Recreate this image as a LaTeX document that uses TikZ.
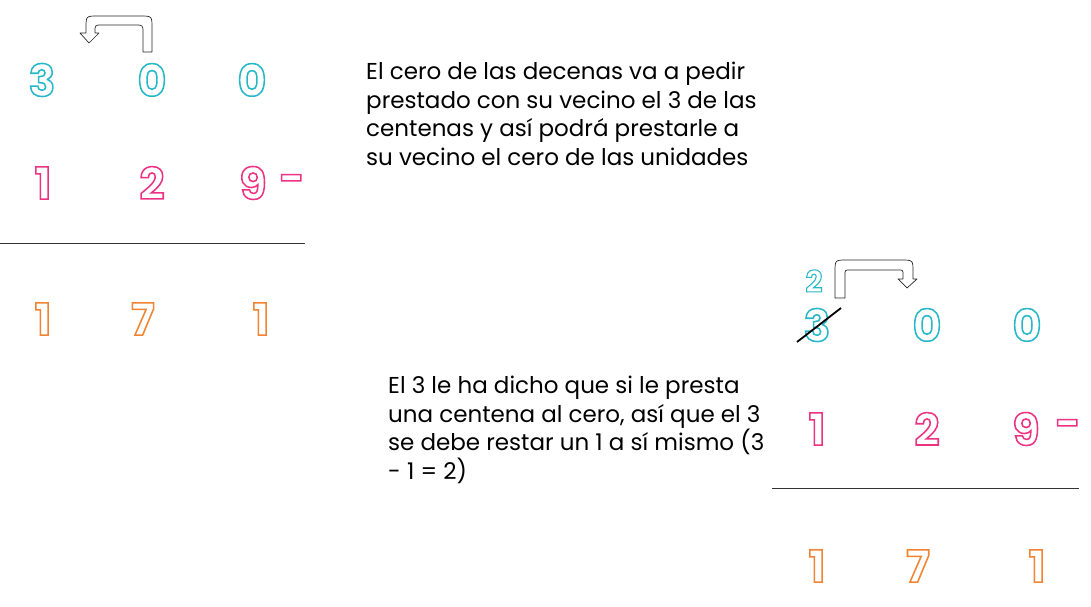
\documentclass[tikz,border=0pt]{standalone}
\usepackage{fontspec}
\setmainfont{Poppins}
\newfontfamily\digitfont{Poppins}[BoldFeatures={FakeBold=3.5}]
\definecolor{cTeal}{RGB}{38,184,200}
\definecolor{cPink}{RGB}{236,50,130}
\definecolor{cOrange}{RGB}{240,132,50}
\def\tealrgb{0.149 0.722 0.784}
\def\pinkrgb{0.925 0.196 0.510}
\def\orangergb{0.941 0.518 0.196}
% outlined glyphs: white fill, coloured stroke
\newcommand\hollow[2]{\special{pdf:bcolor [1 1 1] [#1]}#2\special{pdf:ecolor}}
\tikzset{
	digit/.style     ={inner sep=0pt, font=\digitfont\bfseries\fontsize{44}{44}\selectfont},
	smalldigit/.style={digit, font=\digitfont\bfseries\fontsize{30}{30}\selectfont},
	note/.style      ={anchor=north west, align=left, inner sep=0pt, font=\fontsize{23}{28.5}\selectfont},
	sumline/.style   ={line width=0.8pt, black!80},
	bentarrow/.style ={draw=black!85, fill=white, line width=0.7pt, line join=round},
	strike/.style    ={line width=1.8pt, black},
}

\begin{document}
\begin{tikzpicture}[x=1pt, y=-1pt]
	\useasboundingbox (0,0) rectangle (1091,607);
	% left subtraction
	\node[digit] (la3) at (42,80) {\hollow{\tealrgb}{3}};
	\node[digit] (la0t) at (152,80) {\hollow{\tealrgb}{0}};
	\node[digit] (la0u) at (252,80) {\hollow{\tealrgb}{0}};
	\node[digit] (lb1) at (43,183) {\hollow{\pinkrgb}{1}};
	\node[digit] (lb2) at (152,183) {\hollow{\pinkrgb}{2}};
	\node[digit] (lb9) at (253,183) {\hollow{\pinkrgb}{9}};
	\node[digit] (lbm) at (292,184) {\hollow{\pinkrgb}{-}};
	\draw[sumline] (0,243) -- (305,243);
	\node[digit] (lc1) at (43,319) {\hollow{\orangergb}{1}};
	\node[digit] (lc7) at (143,319) {\hollow{\orangergb}{7}};
	\node[digit] (lc1u) at (261,319) {\hollow{\orangergb}{1}};
	% borrow arrow, tens to hundreds
	\draw[bentarrow] (143,52) -- (143,33) .. controls (143,25) .. (135,25) -- (102,25)
		.. controls (95,25) .. (95,32) -- (95,33) -- (99,33) -- (89,43) -- (80,33) -- (86,33)
		-- (86,28) .. controls (86,16) .. (98,16) -- (140,16) .. controls (152,16) .. (152,28)
		-- (152,52) -- cycle;
	\node[note] (leftnote) at (366,62) {El cero de las decenas va a pedir\\prestado con su vecino el 3 de las\\centenas y así podrá prestarle a\\su vecino el cero de las unidades};
	% right subtraction
	\node[smalldigit] (ra2) at (814,281) {\hollow{\tealrgb}{2}};
	\node[digit] (ra3) at (817,325) {\hollow{\tealrgb}{3}};
	\node[digit] (ra0t) at (927,325) {\hollow{\tealrgb}{0}};
	\node[digit] (ra0u) at (1027,325) {\hollow{\tealrgb}{0}};
	\draw[strike] (797,342) -- (841,308);
	\node[digit] (rb1) at (817,429) {\hollow{\pinkrgb}{1}};
	\node[digit] (rb2) at (927,429) {\hollow{\pinkrgb}{2}};
	\node[digit] (rb9) at (1026,429) {\hollow{\pinkrgb}{9}};
	\node[digit] (rbm) at (1068,429) {\hollow{\pinkrgb}{-}};
	\draw[sumline] (772,488) -- (1079,488);
	\node[digit] (rc1) at (817,566) {\hollow{\orangergb}{1}};
	\node[digit] (rc7) at (918,566) {\hollow{\orangergb}{7}};
	\node[digit] (rc1u) at (1037,566) {\hollow{\orangergb}{1}};
	% lending arrow, hundreds to tens
	\draw[bentarrow] (835,298) -- (835,272) .. controls (835,260) .. (847,260) -- (901,260)
		.. controls (913,260) .. (913,272) -- (913,279) -- (917,279) -- (907,288) -- (898,279)
		-- (903,279) -- (903,275) .. controls (903,270) .. (898,270) -- (850,270)
		.. controls (845,270) .. (845,275) -- (845,298) -- cycle;
	\node[note] (rightnote) at (388,376) {El 3 le ha dicho que si le presta\\una centena al cero, así que el 3\\se debe restar un 1 a sí mismo (3\\- 1 = 2)};
\end{tikzpicture}
\end{document}
